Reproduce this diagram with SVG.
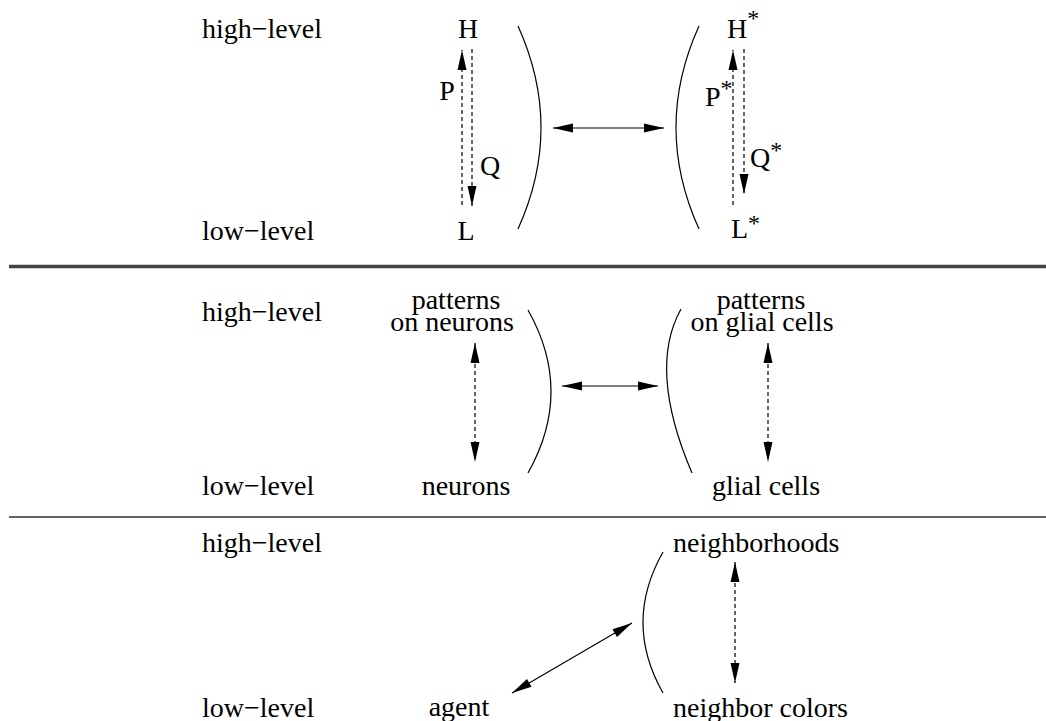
<svg xmlns="http://www.w3.org/2000/svg" width="1046" height="721" viewBox="0 0 1046 721">
<style>
text{font-family:"Liberation Serif","Times New Roman",serif;font-size:28px;fill:#000}
.sup{font-size:24px}
.mid{text-anchor:middle}
.ln{stroke:#000;stroke-width:1.2;fill:none}
.ds{stroke:#000;stroke-width:1.2;fill:none;stroke-dasharray:4 3}
.arc{stroke:#000;stroke-width:1.2;fill:none}
</style>
<defs>
<marker id="ah" markerUnits="userSpaceOnUse" markerWidth="20" markerHeight="10" refX="20" refY="4.5" orient="auto-start-reverse" overflow="visible">
<path d="M0,0 L20,4.5 L0,9 z" fill="#000" stroke="none"/>
</marker>
</defs>
<rect width="1046" height="721" fill="#fff"/>
<g id="separators">
<line x1="9" y1="266.5" x2="1046" y2="266.5" stroke="#444" stroke-width="3.5"/>
<line x1="9" y1="517" x2="1046" y2="517" stroke="#333" stroke-width="1.3"/>
</g>
<g id="level-labels">
<text x="202" y="38">high−level</text>
<text x="202" y="240">low−level</text>
<text x="202" y="321">high−level</text>
<text x="202" y="495">low−level</text>
<text x="202" y="552">high−level</text>
<text x="202" y="717">low−level</text>
</g>
<g id="node-H"><text x="468" y="38" class="mid">H</text></g>
<g id="node-L"><text x="466" y="240" class="mid">L</text></g>
<g id="label-P"><text x="447" y="100" class="mid">P</text></g>
<g id="label-Q"><text x="490" y="175" class="mid">Q</text></g>
<g id="node-Hstar"><text x="727" y="38">H<tspan class="sup" dy="-12">*</tspan></text></g>
<g id="node-Lstar"><text x="731" y="238">L<tspan class="sup" dy="-7">*</tspan></text></g>
<g id="label-Pstar"><text x="705" y="106">P<tspan class="sup" dy="-10">*</tspan></text></g>
<g id="label-Qstar"><text x="750" y="167">Q<tspan class="sup" dy="-9">*</tspan></text></g>
<g id="node-patterns-neurons">
<text x="456" y="309" class="mid">patterns</text>
<text x="452" y="331" class="mid">on neurons</text>
</g>
<g id="node-neurons"><text x="466" y="495" class="mid">neurons</text></g>
<g id="node-patterns-glial">
<text x="761" y="309" class="mid">patterns</text>
<text x="762" y="331" class="mid">on glial cells</text>
</g>
<g id="node-glial"><text x="766" y="495" class="mid">glial cells</text></g>
<g id="node-neighborhoods"><text x="673" y="552">neighborhoods</text></g>
<g id="node-neighbor-colors"><text x="673" y="717">neighbor colors</text></g>
<g id="node-agent"><text x="459" y="716" class="mid">agent</text></g>
<g id="brackets">
<path class="arc" d="M518,26 Q564,127.5 518,229"/>
<path class="arc" d="M699,26 Q653,127.5 699,229"/>
<path class="arc" d="M528,310 Q574,391.5 528,473"/>
<path class="arc" d="M681,309 Q647.5,369 692,473"/>
<path class="arc" d="M663,552 Q623,622.5 663,693"/>
</g>
<g id="connectors">
<line class="ds" x1="462" y1="205" x2="462" y2="50" marker-end="url(#ah)"/>
<line class="ds" x1="472" y1="49" x2="472" y2="206" marker-end="url(#ah)"/>
<line class="ds" x1="733" y1="205" x2="733" y2="50" marker-end="url(#ah)"/>
<line class="ds" x1="744" y1="49" x2="744" y2="194" marker-end="url(#ah)"/>
<line class="ln" x1="553" y1="128" x2="664" y2="128" marker-start="url(#ah)" marker-end="url(#ah)"/>
<line class="ln" x1="562" y1="386" x2="658" y2="386" marker-start="url(#ah)" marker-end="url(#ah)"/>
<line class="ds" x1="475" y1="343" x2="475" y2="462" marker-start="url(#ah)" marker-end="url(#ah)"/>
<line class="ds" x1="768" y1="343" x2="768" y2="462" marker-start="url(#ah)" marker-end="url(#ah)"/>
<line class="ds" x1="735" y1="562" x2="735" y2="683" marker-start="url(#ah)" marker-end="url(#ah)"/>
<line class="ln" x1="512" y1="693" x2="632" y2="623" marker-start="url(#ah)" marker-end="url(#ah)"/>
</g>
</svg>
